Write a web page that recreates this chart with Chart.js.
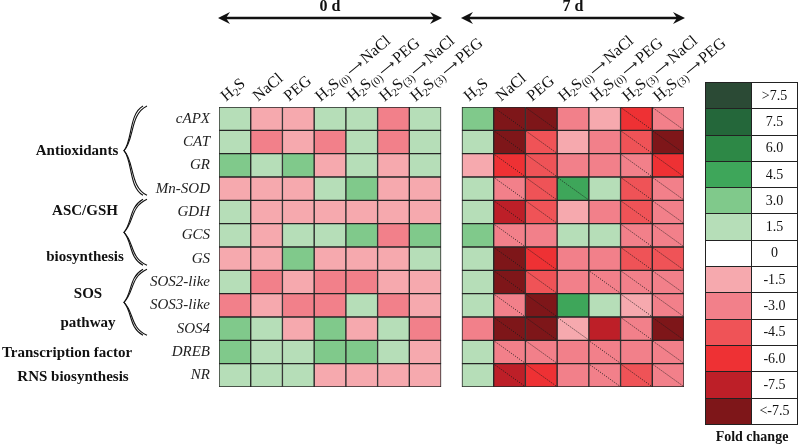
<!DOCTYPE html>
<html>
<head>
<meta charset="utf-8">
<script src="https://cdn.jsdelivr.net/npm/chart.js@4.4.1/dist/chart.umd.min.js"></script>
<style>
    html, body { margin: 0; padding: 0; background: #fff; }
    #wrap { position: relative; width: 800px; height: 444px; overflow: hidden; font-family: 'Liberation Serif', 'Times New Roman', serif; color: #111; }
    #heat { position: absolute; left: 0; top: 0; }
    .col { position: absolute; white-space: nowrap; font-size: 16px; line-height: 16px; transform-origin: 0 100%; transform: rotate(-40deg); }
    .col sub { font-size: 11px; line-height: 0; vertical-align: -3px; }
    .col .arr { font-family: 'DejaVu Sans', sans-serif; font-size: 12px; margin: 0 2px 0 1px; }
    .grp { position: absolute; font-weight: bold; font-size: 15px; line-height: 16px; white-space: nowrap; transform: translate(-50%, -50%); }
    .day { position: absolute; font-weight: bold; font-size: 16px; line-height: 16px; transform: translate(-50%, -50%); }
    #legend { position: absolute; left: 705px; top: 82px; border-collapse: collapse; }
    #legend td { border: 1px solid #222; width: 45px; height: 25.3px; padding: 0; text-align: center; font-size: 14px; }
    #foldLabel { position: absolute; left: 752px; top: 437px; transform: translate(-50%, -50%); font-weight: bold; font-size: 14px; white-space: nowrap; }
</style>
</head>
<body>
<div id="wrap">
    <canvas id="heat" width="800" height="444"></canvas>
    <table id="legend"></table>
    <div id="foldLabel">Fold change</div>
</div>
<script>
// Genes (rows) and treatments (columns)
const genes = ['cAPX', 'CAT', 'GR', 'Mn-SOD', 'GDH', 'GCS', 'GS', 'SOS2-like', 'SOS3-like', 'SOS4', 'DREB', 'NR'];
const treatments = ['H2S', 'NaCl', 'PEG', 'H2S(0) → NaCl', 'H2S(0) → PEG', 'H2S(3) → NaCl', 'H2S(3) → PEG'];
const days = ['0 d', '7 d'];

// Fold change, 0 d (rows = genes, cols = treatments)
const day0 = [
    [1.5, -1.5, -1.5, 1.5, 1.5, -3.0, 1.5],
    [1.5, -3.0, -1.5, -3.0, 1.5, -3.0, 1.5],
    [3.0, 1.5, 3.0, -1.5, 1.5, -1.5, 1.5],
    [-1.5, -1.5, -1.5, 1.5, 3.0, -1.5, -1.5],
    [1.5, -1.5, -1.5, -1.5, -1.5, -1.5, -1.5],
    [1.5, -1.5, 1.5, 1.5, 3.0, -3.0, 3.0],
    [-1.5, -1.5, 3.0, -1.5, -1.5, -1.5, 1.5],
    [1.5, -3.0, -1.5, -3.0, -3.0, -1.5, -1.5],
    [-3.0, -1.5, -3.0, -3.0, 1.5, -3.0, -1.5],
    [3.0, 1.5, -1.5, 3.0, -1.5, 1.5, -3.0],
    [3.0, 1.5, 1.5, 3.0, 3.0, 1.5, -1.5],
    [1.5, 1.5, 1.5, -1.5, -1.5, -1.5, -1.5]
];

// Fold change, 7 d (-9 stands for "< -7.5")
const day7 = [
    [3.0, -9, -9, -3.0, -1.5, -6.0, -3.0],
    [1.5, -9, -4.5, -1.5, -3.0, -4.5, -9],
    [-1.5, -6.0, -4.5, -3.0, -3.0, -3.0, -6.0],
    [1.5, -3.0, -4.5, 4.5, 1.5, -4.5, -3.0],
    [1.5, -7.5, -4.5, -1.5, -3.0, -4.5, -3.0],
    [3.0, -3.0, -3.0, 1.5, 1.5, -3.0, -3.0],
    [1.5, -9, -6.0, -3.0, -3.0, -4.5, -4.5],
    [1.5, -9, -4.5, -3.0, -3.0, -3.0, -3.0],
    [1.5, -3.0, -9, 4.5, 1.5, -1.5, -3.0],
    [-3.0, -9, -9, -1.5, -7.5, -3.0, -9],
    [1.5, -3.0, -3.0, -3.0, -3.0, -3.0, -3.0],
    [1.5, -7.5, -6.0, -3.0, -3.0, -4.5, -3.0]
];

// Cells marked with a dotted diagonal, 7 d
const sig7 = [
    [0, 1, 1, 0, 0, 1, 1],
    [0, 1, 1, 0, 0, 1, 1],
    [0, 1, 1, 0, 0, 1, 1],
    [0, 1, 1, 1, 0, 1, 1],
    [0, 1, 1, 0, 0, 1, 1],
    [0, 1, 0, 0, 0, 1, 1],
    [0, 1, 1, 0, 0, 1, 1],
    [0, 1, 1, 0, 1, 1, 1],
    [0, 1, 1, 0, 0, 1, 1],
    [0, 1, 1, 1, 0, 1, 1],
    [0, 1, 1, 0, 1, 0, 1],
    [0, 1, 1, 0, 1, 1, 1]
];

// Colour key
const legendLabels = ['>7.5', '7.5', '6.0', '4.5', '3.0', '1.5', '0', '-1.5', '-3.0', '-4.5', '-6.0', '-7.5', '<-7.5'];
const legendLevels = [null, 7.5, 6.0, 4.5, 3.0, 1.5, 0, -1.5, -3.0, -4.5, -6.0, -7.5, null];
const legendColors = ['#2b4a35', '#24673a', '#2d8846', '#3ea65a', '#80c98b', '#b6deb8', '#ffffff',
    '#f6a9ae', '#f2808a', '#ef5357', '#ee3134', '#bd1f28', '#7e1619'];

const groups = [
    { lines: ['Antioxidants'], x: 77, y: [150], from: 0, to: 3 },
    { lines: ['ASC/GSH', 'biosynthesis'], x: 85, y: [210, 256], from: 4, to: 6 },
    { lines: ['SOS', 'pathway'], x: 88, y: [293, 322], from: 7, to: 9 },
    { lines: ['Transcription factor'], x: 67, y: [352] },
    { lines: ['RNS biosynthesis'], x: 73, y: [376] }
];

const gap = 0.66; // space between the two panels, in cell widths

function colorFor(v) {
    if (v > 7.5) return legendColors[0];
    if (v < -7.5) return legendColors[12];
    let best = 1;
    for (let i = 1; i < 12; i++) {
        if (Math.abs(legendLevels[i] - v) < Math.abs(legendLevels[best] - v)) best = i;
    }
    return legendColors[best];
}

const cellStyle = {
    borderColor: '#262626',
    borderWidth: 1,
    borderSkipped: false,
    barPercentage: 1,
    categoryPercentage: 1
};

const datasets = [];
treatments.forEach((t, j) => {
    datasets.push({ label: '0 d ' + t, data: genes.map(() => 1), backgroundColor: day0.map(r => colorFor(r[j])), ...cellStyle });
});
datasets.push({ label: 'gap', data: genes.map(() => gap), backgroundColor: 'rgba(0,0,0,0)', borderWidth: 0, barPercentage: 1, categoryPercentage: 1 });
treatments.forEach((t, j) => {
    datasets.push({ label: '7 d ' + t, data: genes.map(() => 1), backgroundColor: day7.map(r => colorFor(r[j])), ...cellStyle });
});

function panelExtent(chart, first) {
    const l = chart.getDatasetMeta(first).data[0];
    const r = chart.getDatasetMeta(first + 6).data[0];
    return [l.base, r.x];
}

// dotted diagonals, day arrows, braces
const decorations = {
    id: 'decorations',
    afterDatasetsDraw(chart) {
        const ctx = chart.ctx;
        ctx.save();
        ctx.strokeStyle = 'rgba(25,25,25,0.75)';
        ctx.lineWidth = 1;
        ctx.setLineDash([1.2, 1.3]);
        for (let j = 0; j < 7; j++) {
            chart.getDatasetMeta(8 + j).data.forEach((el, i) => {
                if (!sig7[i][j]) return;
                const h = el.height / 2;
                ctx.beginPath();
                ctx.moveTo(el.base + 1, el.y - h + 1);
                ctx.lineTo(el.x - 1, el.y + h - 1);
                ctx.stroke();
            });
        }
        ctx.restore();
    },
    afterDraw(chart) {
        const ctx = chart.ctx;
        ctx.save();
        ctx.strokeStyle = '#111';
        ctx.fillStyle = '#111';
        ctx.lineWidth = 2.4;
        [0, 8].forEach(first => {
            const [x0, x1] = panelExtent(chart, first);
            const y = 18;
            ctx.beginPath();
            ctx.moveTo(x0 + 4, y);
            ctx.lineTo(x1 - 4, y);
            ctx.stroke();
            [[x0, 1], [x1, -1]].forEach(([x, d]) => {
                ctx.beginPath();
                ctx.moveTo(x - d, y);
                ctx.lineTo(x + d * 11, y - 6);
                ctx.lineTo(x + d * 7, y);
                ctx.lineTo(x + d * 11, y + 6);
                ctx.closePath();
                ctx.fill();
            });
        });
        // braces
        const yS = chart.scales.y;
        const band = yS.getPixelForValue(1) - yS.getPixelForValue(0);
        ctx.lineWidth = 1.1;
        groups.forEach(g => {
            if (g.from === undefined) return;
            const top = yS.getPixelForValue(g.from) - band / 2 - 1;
            const bot = yS.getPixelForValue(g.to) + band / 2 - 5;
            const mid = (top + bot) / 2;
            [[147, 23], [143, 19]].forEach(([x, w]) => {
                ctx.beginPath();
                ctx.moveTo(x, top);
                ctx.bezierCurveTo(x - w * 0.75, top + 8, x - w * 0.55, mid - 10, x - w, mid);
                ctx.bezierCurveTo(x - w * 0.55, mid + 10, x - w * 0.75, bot - 8, x, bot);
                ctx.stroke();
            });
        });
        ctx.restore();
    }
};

const chart = new Chart(document.getElementById('heat').getContext('2d'), {
    type: 'bar',
    data: { labels: genes, datasets: datasets },
    options: {
        indexAxis: 'y',
        responsive: false,
        animation: false,
        layout: { padding: { left: 149, right: 116, top: 107, bottom: 57 } },
        plugins: { legend: { display: false }, tooltip: { enabled: false } },
        scales: {
            x: { stacked: true, min: 0, max: 14 + gap, display: false },
            y: {
                stacked: true,
                afterFit: (axis) => { axis.width = 70; },
                grid: { display: false, drawTicks: false },
                border: { display: false },
                ticks: {
                    padding: 9,
                    color: '#222',
                    font: { family: "'Liberation Serif', serif", style: 'italic', size: 15 }
                }
            }
        }
    },
    plugins: [decorations]
});

// HTML text overlays, placed from the chart's own element positions
const wrap = document.getElementById('wrap');
function fmtTreatment(t) {
    return t.replace(/H2S/g, 'H<sub>2</sub>S')
        .replace(/\((\d)\)/g, '<sub>($1)</sub>')
        .replace(' → ', '<span class="arr">⟶</span>');
}
[0, 8].forEach((first, p) => {
    treatments.forEach((t, j) => {
        const el = chart.getDatasetMeta(first + j).data[0];
        const d = document.createElement('div');
        d.className = 'col';
        d.innerHTML = fmtTreatment(t);
        d.style.left = (el.base + 9) + 'px';
        d.style.top = (104 - 16) + 'px';
        wrap.appendChild(d);
    });
    const [x0, x1] = panelExtent(chart, first);
    const lab = document.createElement('div');
    lab.className = 'day';
    lab.textContent = days[p];
    lab.style.left = ((x0 + x1) / 2) + 'px';
    lab.style.top = '6px';
    wrap.appendChild(lab);
});
groups.forEach(g => {
    g.lines.forEach((txt, k) => {
        const d = document.createElement('div');
        d.className = 'grp';
        d.textContent = txt;
        d.style.left = g.x + 'px';
        d.style.top = g.y[k] + 'px';
        wrap.appendChild(d);
    });
});

// colour key
document.getElementById('legend').innerHTML = legendLabels.map((l, i) =>
    `<tr><td style="background:${legendColors[i]}"></td><td>${l}</td></tr>`).join('');
</script>
</body>
</html>
